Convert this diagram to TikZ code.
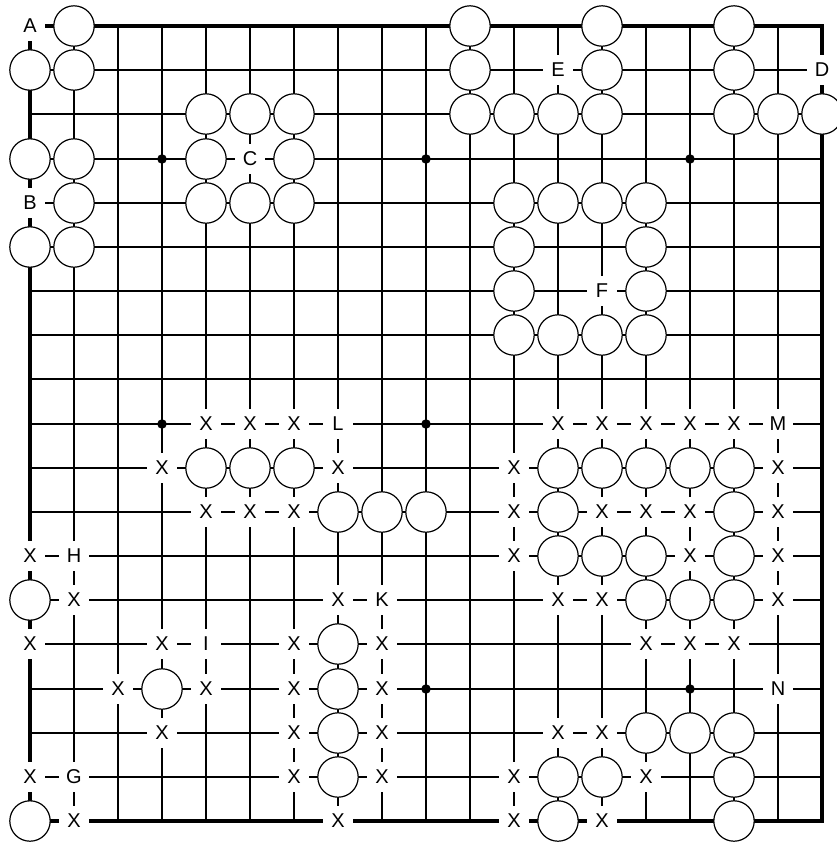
\documentclass[tikz,border=0pt]{standalone}
\usepackage{fontspec}
\setmainfont{Liberation Sans}
\begin{document}
\begin{tikzpicture}[x=1pt, y=-1pt,
  stone/.style={circle, draw=black, fill=white, line width=1.2pt, minimum size=40.4pt, inner sep=0pt},
  lbl/.style={rectangle, fill=white, minimum size=30pt, inner sep=0pt, font=\fontsize{20}{20}\selectfont},
  gridline/.style={line width=2pt},
  edgeline/.style={line width=4pt},
  hoshi/.style={circle, fill=black, minimum size=9.5pt, inner sep=0pt}]
\useasboundingbox (0,0) rectangle (837,844);
\fill[white] (0,0) rectangle (837,844);
% grid
\foreach \i in {1,...,17} {
  \draw[gridline] ({30+44*\i},26) -- ({30+44*\i},821);
  \draw[gridline] (30,{round(26+44.1667*\i)}) -- (822,{round(26+44.1667*\i)});
}
\draw[edgeline] (30,26) rectangle (822,821);
% star points
\foreach \a/\b [count=\n] in {3/3,9/3,15/3,3/9,9/9,15/9,3/15,9/15,15/15}
  \node[hoshi] (h\n) at ({30+44*\a},{round(26+44.1667*\b)}) {};
% stones
\foreach \a/\b [count=\n] in {
  1/0,10/0,13/0,16/0,
  0/1,1/1,10/1,13/1,16/1,
  4/2,5/2,6/2,10/2,11/2,12/2,13/2,16/2,17/2,18/2,
  0/3,1/3,4/3,6/3,
  1/4,4/4,5/4,6/4,11/4,12/4,13/4,14/4,
  0/5,1/5,11/5,14/5,
  11/6,14/6,
  11/7,12/7,13/7,14/7,
  4/10,5/10,6/10,12/10,13/10,14/10,15/10,16/10,
  7/11,8/11,9/11,12/11,16/11,
  12/12,13/12,14/12,16/12,
  0/13,14/13,15/13,16/13,
  7/14,
  3/15,7/15,
  7/16,14/16,15/16,16/16,
  7/17,12/17,13/17,16/17,
  0/18,12/18,16/18}
  \node[stone] (s\n) at ({30+44*\a},{round(26+44.1667*\b)}) {};
% letters
\foreach \a/\b/\t [count=\n] in {
  0/0/A,18/1/D,12/1/E,5/3/C,0/4/B,13/6/F,7/9/L,17/9/M,
  1/12/H,8/13/K,4/14/I,17/15/N,1/17/G}
  \node[lbl] (l\n) at ({30+44*\a},{round(26+44.1667*\b)}) {\t};
% crosses
\foreach \a/\b [count=\n] in {
  4/9,5/9,6/9,12/9,13/9,14/9,15/9,16/9,
  3/10,7/10,11/10,17/10,
  4/11,5/11,6/11,11/11,13/11,14/11,15/11,17/11,
  0/12,11/12,15/12,17/12,
  1/13,7/13,12/13,13/13,17/13,
  0/14,3/14,6/14,8/14,14/14,15/14,16/14,
  2/15,4/15,6/15,8/15,
  3/16,6/16,8/16,12/16,13/16,
  0/17,6/17,8/17,11/17,14/17,
  1/18,7/18,11/18,13/18}
  \node[lbl] (x\n) at ({30+44*\a},{round(26+44.1667*\b)}) {X};
\end{tikzpicture}
\end{document}
